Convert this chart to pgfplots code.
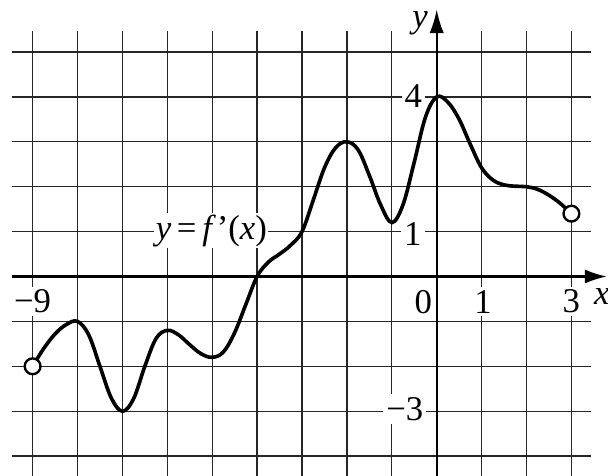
\documentclass[border=0pt]{standalone}
\usepackage{pgfplots}
\pgfplotsset{compat=1.18}
\usepackage{fontspec}
\setmainfont{Liberation Serif}
\usetikzlibrary{arrows.meta}
\pgfplotstableread{
x y
-9 -2
-8.75 -1.6
-8.5 -1.28
-8.25 -1.07
-8 -1
-7.75 -1.3
-7.5 -2.0
-7.25 -2.7
-7 -3
-6.75 -2.72
-6.5 -2.0
-6.25 -1.38
-6 -1.2
-5.75 -1.3
-5.5 -1.52
-5.25 -1.72
-5 -1.8
-4.75 -1.68
-4.5 -1.25
-4.25 -0.62
-4 0
-3.75 0.32
-3.5 0.5
-3.25 0.7
-3 1.0
-2.75 1.7
-2.5 2.42
-2.25 2.87
-2 3
-1.75 2.82
-1.5 2.25
-1.25 1.6
-1 1.2
-0.75 1.6
-0.5 2.55
-0.25 3.55
0 4
0.25 3.88
0.5 3.5
0.75 2.94
1 2.42
1.25 2.15
1.5 2.04
1.75 2.01
2 2.0
2.25 1.94
2.5 1.81
2.75 1.63
3 1.4
}\curve
\begin{document}
\begin{tikzpicture}
\begin{axis}[x=1cm,y=1cm,
  xmin=-9.726, xmax=3.815, ymin=-4.421, ymax=6.158,
  hide axis, clip=false]
% grid
\foreach \i in {-9,...,3} {
  \edef\tmp{\noexpand\draw[black!85, line width=0.8pt] (axis cs:\i,-4.5) -- (axis cs:\i,5.47);}\tmp
}
\foreach \j in {-4,...,5} {
  \edef\tmp{\noexpand\draw[black!85, line width=0.8pt] (axis cs:-9.46,\j) -- (axis cs:3.44,\j);}\tmp
}
% axes
\draw[line width=1.4pt, -{Latex[length=14pt,width=9pt]}] (axis cs:-9.46,0) -- (axis cs:3.79,0);
\draw[line width=1.4pt, -{Latex[length=15pt,width=9pt]}] (axis cs:0,-4.5) -- (axis cs:0,5.95);
% labels
\tikzset{lab/.style={fill=white, inner sep=2pt, font=\fontsize{22}{26}\selectfont}}
\node[lab] at (axis cs:-9.0,-0.56) {−9};
\node[lab] at (axis cs:-0.30,-0.56) {0};
\node[lab] at (axis cs:1.03,-0.56) {1};
\node[lab] at (axis cs:3.0,-0.56) {3};
\node[font=\fontsize{22}{26}\selectfont\itshape] at (axis cs:3.68,-0.45) {x};
\node[font=\fontsize{22}{26}\selectfont\itshape] at (axis cs:-0.37,5.64) {y};
\node[lab] at (axis cs:-0.52,4.01) {4};
\node[lab] at (axis cs:-0.53,0.94) {1};
\node[lab] at (axis cs:-0.71,-2.95) {−3};
\node[lab, inner sep=1pt] at (axis cs:-5.02,1.02) {\textit{y}\,=\,\textit{f}\kern0.5pt’(\textit{x})};
% curve
\addplot[black, line width=2.3pt, smooth, tension=0.6] table[x=x,y=y] {\curve};
\addplot[only marks, mark=*, mark size=5pt, mark options={fill=white, draw=black, line width=1.5pt}] coordinates {(-9,-2) (3,1.4)};
\end{axis}
\pgfresetboundingbox
\useasboundingbox (current axis.south west) rectangle (current axis.north east);
\end{tikzpicture}
\end{document}
